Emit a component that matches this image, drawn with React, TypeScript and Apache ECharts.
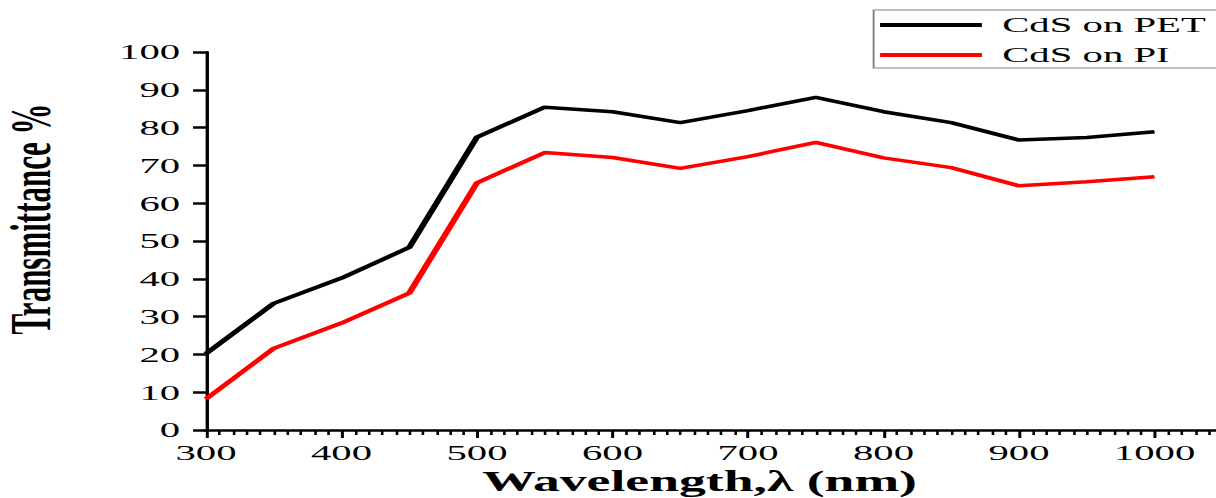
import React, { useEffect, useRef } from "react";
import * as echarts from "echarts";

const wavelengths = [300, 350, 400, 450, 500, 550, 600, 650, 700, 750, 800, 850, 900, 950, 1000];
const cdsOnPET = [20.2, 33.5, 40.2, 48.3, 77.5, 85.4, 84.2, 81.3, 84.5, 88.0, 84.2, 81.3, 76.7, 77.4, 78.9];
const cdsOnPI = [8.2, 21.6, 28.3, 36.2, 65.4, 73.4, 72.1, 69.2, 72.3, 76.1, 72.0, 69.4, 64.6, 65.7, 67.0];
const seriesNames = ["CdS on PET", "CdS on PI"];
const xTitle = "Wavelength,\u03bb (nm)";
const yTitle = "Transmittance %";

// The reference is horizontally stretched; draw at a narrower width and stretch the whole chart.
const FULL_W = 1216;
const FULL_H = 498;
const VISIBLE_W = 657;
const SX = FULL_W / VISIBLE_W;
// The x axis runs on past the right edge of the picture; the drawing area is wider and clipped.
const DRAW_W = 696.7;

const serif = '"Liberation Serif", "Times New Roman", serif';

export default function App() {
  const ref = useRef<HTMLDivElement | null>(null);

  useEffect(() => {
    if (!ref.current) return;
    const chart = echarts.init(ref.current, undefined, { renderer: "svg" });
    const pairs = (ys: number[]) => wavelengths.map((x, i) => [x, ys[i]]);
    chart.setOption({
      animation: false,
      backgroundColor: "#ffffff",
      grid: { left: 111.3, right: 0, top: 52, bottom: 68, containLabel: false },
      legend: {
        left: 472,
        top: 10,
        orient: "vertical",
        icon: "rect",
        itemWidth: 55,
        itemHeight: 4,
        itemGap: 8,
        padding: [4, 12, 2, 3.5],
        borderColor: "#808080",
        borderWidth: 1,
        textStyle: { fontFamily: serif, fontSize: 22, lineHeight: 22, color: "#000", padding: [0, 0, 0, 6] },
        data: seriesNames,
      },
      xAxis: {
        type: "value",
        min: 300,
        max: 1100,
        interval: 100,
        axisLine: { show: true, lineStyle: { color: "#000", width: 2.5 } },
        axisTick: { show: true, length: 8, lineStyle: { color: "#000", width: 1.6 } },
        minorTick: { show: true, splitNumber: 10, length: 5, lineStyle: { color: "#000", width: 1.4 } },
        splitLine: { show: false },
        axisLabel: {
          fontFamily: serif,
          fontSize: 22,
          color: "#000",
          margin: 12,
          showMaxLabel: false,
          formatter: (v: number) => String(v),
        },
      },
      yAxis: {
        type: "value",
        min: 0,
        max: 100,
        interval: 10,
        axisLine: { show: true, lineStyle: { color: "#000", width: 1.8 } },
        axisTick: { show: true, length: 7, lineStyle: { color: "#000", width: 2.5 } },
        splitLine: { show: false },
        axisLabel: { fontFamily: serif, fontSize: 22, color: "#000", margin: 14, formatter: (v: number) => String(v) },
      },
      graphic: [
        {
          type: "text",
          x: 16.7,
          y: 219,
          rotation: Math.PI / 2,
          style: {
            text: yTitle,
            font: `bold 31px ${serif}`,
            fill: "#000",
            textAlign: "center",
            textVerticalAlign: "middle",
          },
        },
        {
          type: "text",
          x: 378,
          y: 481,
          style: {
            text: xTitle,
            font: `bold 29px ${serif}`,
            fill: "#000",
            textAlign: "center",
            textVerticalAlign: "middle",
          },
        },
      ],
      series: [
        {
          name: seriesNames[0],
          type: "line",
          data: pairs(cdsOnPET),
          symbol: "none",
          lineStyle: { color: "#000000", width: 3.5 },
          itemStyle: { color: "#000000" },
        },
        {
          name: seriesNames[1],
          type: "line",
          data: pairs(cdsOnPI),
          symbol: "none",
          lineStyle: { color: "#ff0000", width: 3.5 },
          itemStyle: { color: "#ff0000" },
        },
      ],
    });
    return () => chart.dispose();
  }, []);

  return (
    <div
      style={{
        position: "absolute",
        left: 0,
        top: 0,
        width: FULL_W,
        height: FULL_H,
        overflow: "hidden",
        background: "#fff",
      }}
    >
      <div
        ref={ref}
        style={{
          width: DRAW_W,
          height: FULL_H,
          transform: `scaleX(${SX})`,
          transformOrigin: "0 0",
        }}
      />
    </div>
  );
}
